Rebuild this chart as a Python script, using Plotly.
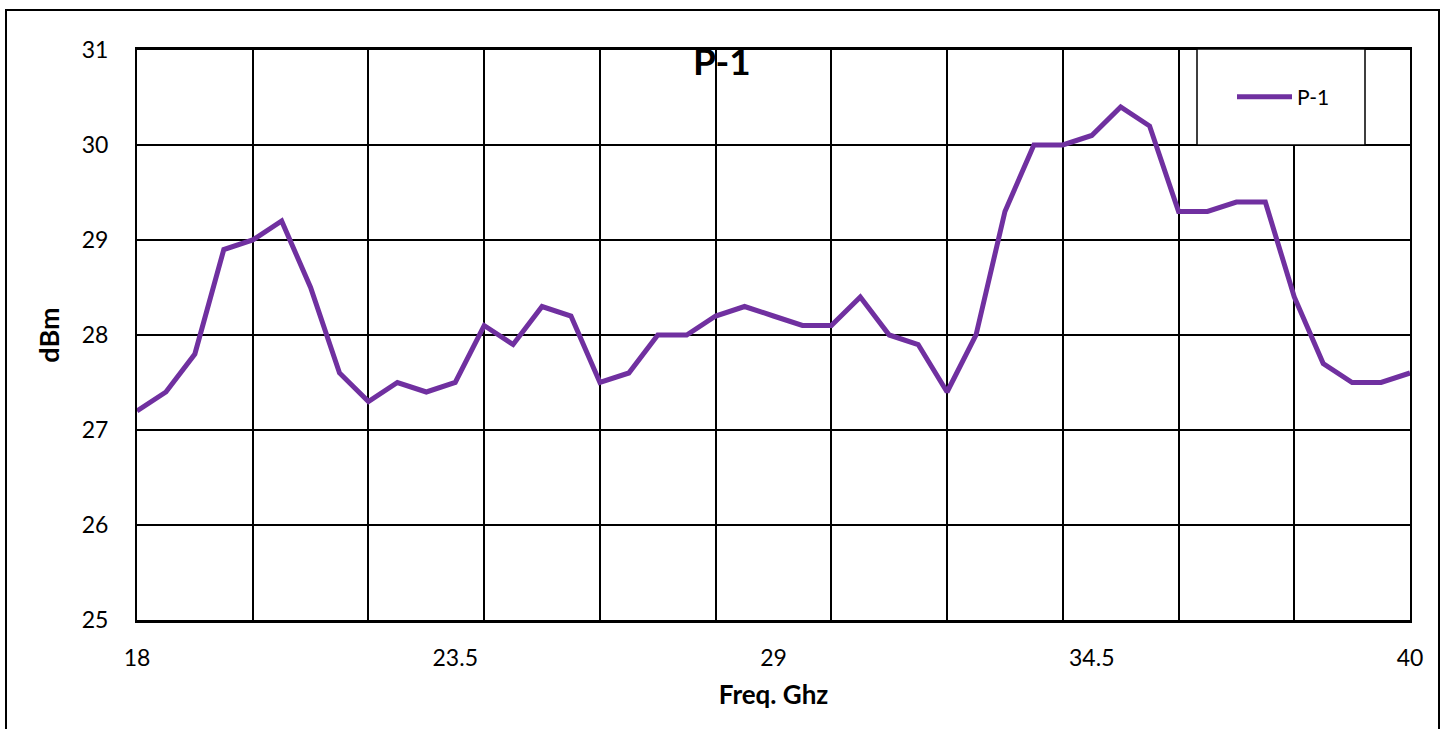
import plotly.graph_objects as go

freq = [18, 18.5, 19, 19.5, 20, 20.5, 21, 21.5, 22, 22.5, 23, 23.5, 24, 24.5, 25, 25.5,
        26, 26.5, 27, 27.5, 28, 28.5, 29, 29.5, 30, 30.5, 31, 31.5, 32, 32.5, 33, 33.5,
        34, 34.5, 35, 35.5, 36, 36.5, 37, 37.5, 38, 38.5, 39, 39.5, 40]
p1 = [27.2, 27.4, 27.8, 28.9, 29.0, 29.2, 28.5, 27.6, 27.3, 27.5, 27.4, 27.5, 28.1, 27.9,
      28.3, 28.2, 27.5, 27.6, 28.0, 28.0, 28.2, 28.3, 28.2, 28.1, 28.1, 28.4, 28.0, 27.9,
      27.4, 28.0, 29.3, 30.0, 30.0, 30.1, 30.4, 30.2, 29.3, 29.3, 29.4, 29.4, 28.4, 27.7,
      27.5, 27.5, 27.6]
x_tick_vals = [18, 23.5, 29, 34.5, 40]
x_tick_text = ["18", "23.5", "29", "34.5", "40"]
series_name = "P-1"

FONT = "Lato"
W, H = 1451, 729
ML, MR, MT, MB = 137, 41, 50, 109
PW, PH = W - ML - MR, H - MT - MB


def px_x(x):
    return (x - ML) / PW


def px_y(y):
    return (H - MB - y) / PH


fig = go.Figure()
fig.add_trace(go.Scatter(
    x=freq, y=p1, mode="lines", name=series_name,
    line=dict(color="#7030A0", width=5), showlegend=True,
))

fig.update_layout(
    width=W, height=H,
    margin=dict(l=ML, r=MR, t=MT, b=MB),
    paper_bgcolor="white", plot_bgcolor="white",
    font=dict(family=FONT, size=23, color="black"),
    xaxis=dict(
        range=[18, 40], tickmode="array", tickvals=x_tick_vals, ticktext=x_tick_text,
        showgrid=False, zeroline=False, ticks="", ticklabelstandoff=16,
        showline=True, linecolor="black", linewidth=2.5, mirror=True,
        minor=dict(tick0=18, dtick=2, showgrid=True, gridcolor="black", gridwidth=1.5),
        title=dict(text="<b>Freq. Ghz</b>", font=dict(size=26), standoff=16),
    ),
    yaxis=dict(
        range=[25, 31], dtick=1, showgrid=True, gridcolor="black", gridwidth=1.5,
        zeroline=False, ticks="", ticklabelstandoff=22,
        showline=True, linecolor="black", linewidth=2, mirror=True,
        title=dict(text="<b>dBm</b>", font=dict(size=27), standoff=14),
    ),
    legend=dict(
        x=px_x(1232), y=px_y(97), xanchor="left", yanchor="middle",
        bgcolor="rgba(0,0,0,0)", borderwidth=0, font=dict(size=21),
        itemwidth=55,
    ),
    shapes=[
        dict(type="rect", xref="paper", yref="paper",
             x0=px_x(1197), x1=px_x(1365), y0=px_y(145), y1=px_y(49),
             fillcolor="white", line=dict(color="black", width=1.5), layer="above"),
        dict(type="rect", xref="paper", yref="paper",
             x0=px_x(6), x1=px_x(1439), y0=px_y(740), y1=px_y(10),
             fillcolor="rgba(0,0,0,0)", line=dict(color="black", width=2), layer="above"),
    ],
    annotations=[
        dict(text="<b>P-1</b>", xref="paper", yref="paper", x=px_x(722), y=px_y(60),
             xanchor="center", yanchor="middle", showarrow=False,
             font=dict(size=37, family=FONT, color="black")),
    ],
)

fig.write_html(
    "out.html",
    config={"displayModeBar": False},
    post_script="document.body.style.margin='0';document.body.style.overflow='hidden';",
)
